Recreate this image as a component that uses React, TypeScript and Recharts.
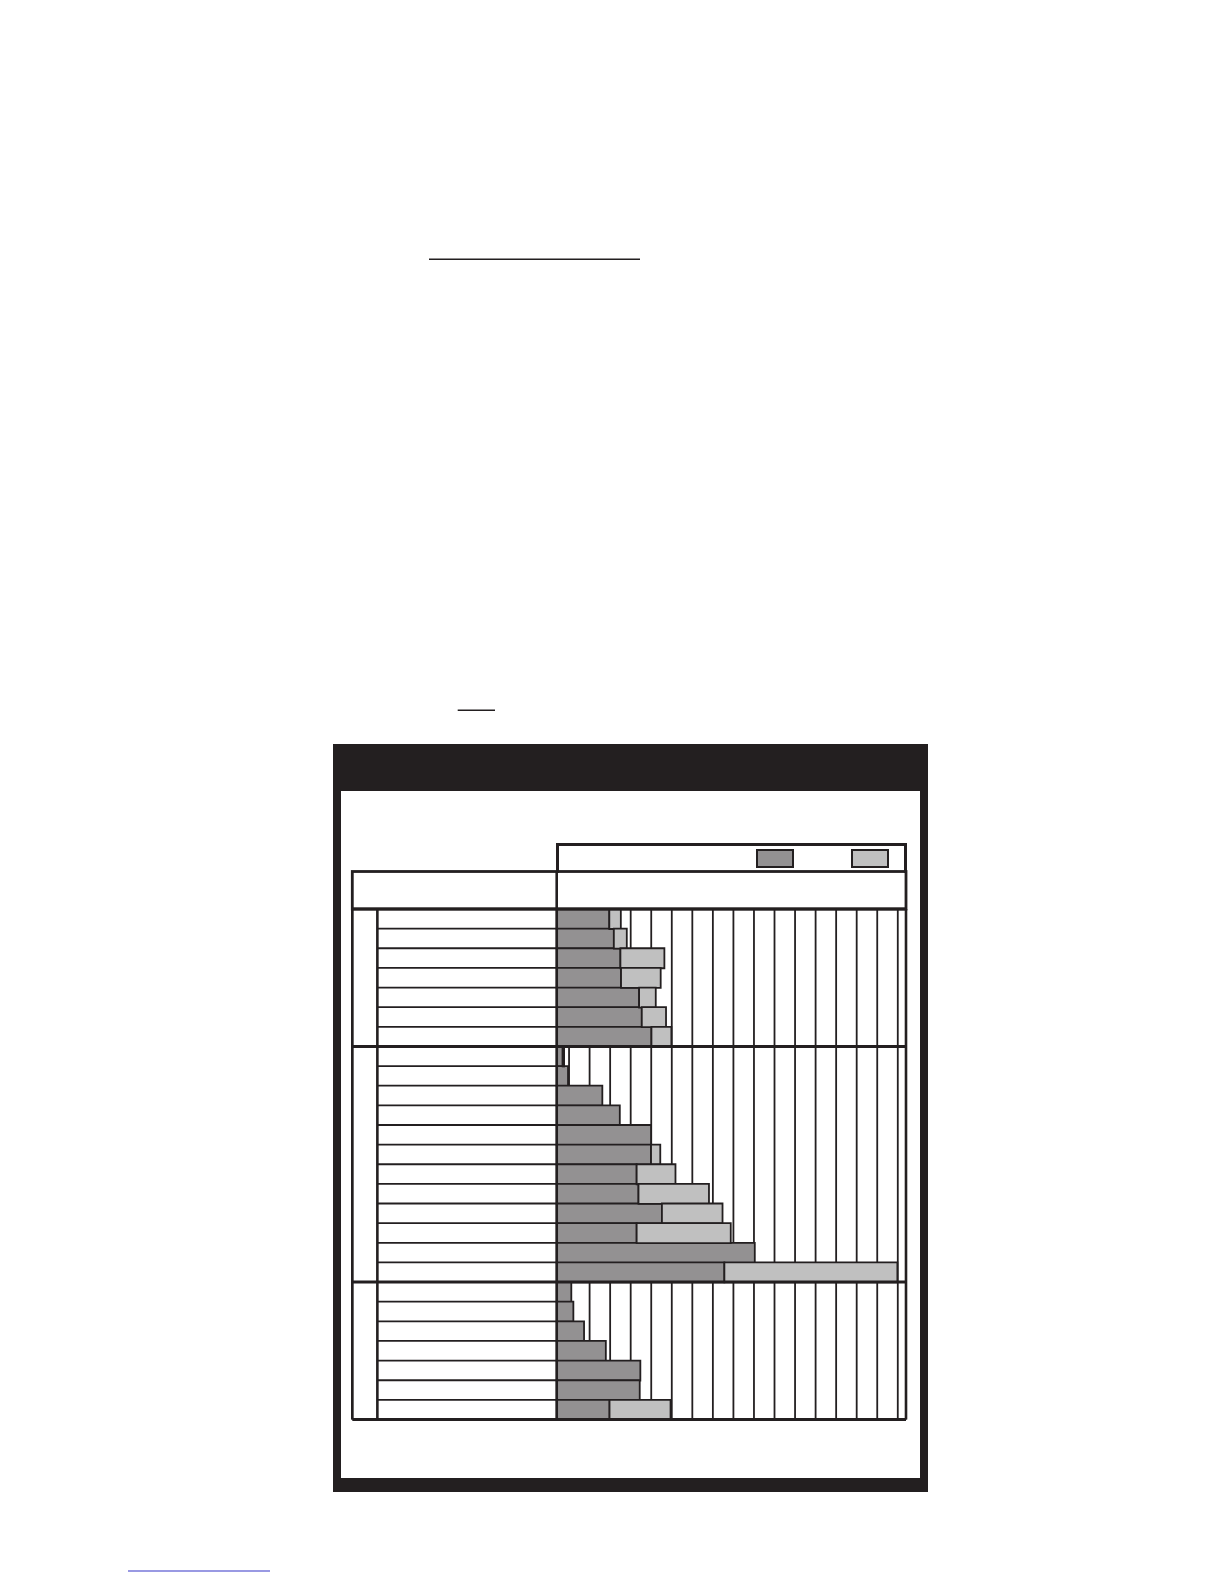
import {
    BarChart,
    Bar,
    XAxis,
    YAxis,
    CartesianGrid,
    ReferenceLine,
    Legend,
} from "recharts";

// rows of the three groups (the chart carries no printed labels)
const ROWS_A = ["A1", "A2", "A3", "A4", "A5", "A6", "A7"];
const ROWS_B = ["B1", "B2", "B3", "B4", "B5", "B6", "B7", "B8", "B9", "B10", "B11", "B12"];
const ROWS_C = ["C1", "C2", "C3", "C4", "C5", "C6", "C7"];

// dark segment values (one grid step = 1)
const DARK_A = [2.56, 2.78, 3.1, 3.13, 4.01, 4.14, 4.61];
const DARK_B = [0.29, 0.55, 2.22, 3.07, 4.59, 4.59, 3.89, 3.98, 5.12, 3.89, 9.64, 8.16];
const DARK_C = [0.71, 0.81, 1.33, 2.39, 4.07, 4.04, 2.57];

// light segment values, stacked after the dark one
const LIGHT_A = [0.56, 0.63, 2.14, 1.93, 0.81, 1.18, 0.97];
const LIGHT_B = [0.07, 0, 0, 0, 0, 0.45, 1.89, 3.43, 2.95, 4.58, 0, 8.42];
const LIGHT_C = [0, 0, 0, 0, 0, 0, 2.97];

const GRID_TICKS = [0.6, 1.6, 2.6, 3.6, 4.6, 5.6, 6.6, 7.6, 8.6, 9.6, 10.6, 11.6, 12.6, 13.6, 14.6, 15.6, 16.6];

const SERIES = ["dark", "light"];

// axis extents: table left edge and label column edge sit left of zero
const X_MAX = 17;
const X_TABLE_LEFT = -9.95;
const X_GROUP_COL = -8.73;

const INK = "#231f20";
const DARK_FILL = "#939192";
const LIGHT_FILL = "#c0c0c0";

const rows = [...ROWS_A, ...ROWS_B, ...ROWS_C];
const darkVals = [...DARK_A, ...DARK_B, ...DARK_C];
const lightVals = [...LIGHT_A, ...LIGHT_B, ...LIGHT_C];

const data = rows.map((row, i) => ({
    row,
    dark: darkVals[i],
    light: lightVals[i],
}));

const groupFirst = [ROWS_A[0], ROWS_B[0], ROWS_C[0]];
const innerRows = rows.filter((r) => !groupFirst.includes(r));

// page offset of the root (body margin)
const O = 8;

function LegendBox({ payload }: any) {
    const swatchLeft = [197, 292];
    return (
        <div
            style={{
                position: "relative",
                width: 351,
                height: 30,
                boxSizing: "border-box",
                border: `3px solid ${INK}`,
                borderBottom: "none",
            }}
        >
            {(payload || []).map((p: any, i: number) => (
                <div
                    key={p.value}
                    style={{
                        position: "absolute",
                        left: swatchLeft[i],
                        top: 3,
                        width: 38,
                        height: 19,
                        boxSizing: "border-box",
                        background: p.color,
                        border: `2.5px solid ${INK}`,
                    }}
                />
            ))}
        </div>
    );
}

export default function App() {
    return (
        <div style={{ position: "relative", width: 1208, height: 1576, background: "#fff" }}>
            {/* outer dark frame with header band */}
            <div
                style={{
                    position: "absolute",
                    left: 333.3 - O,
                    top: 744 - O,
                    width: 594.4,
                    height: 747.7,
                    background: INK,
                }}
            />
            <div
                style={{
                    position: "absolute",
                    left: 341 - O,
                    top: 791 - O,
                    width: 579,
                    height: 687,
                    background: "#fff",
                }}
            >
                <BarChart
                    width={579}
                    height={687}
                    data={data}
                    layout="vertical"
                    barCategoryGap={0}
                    barGap={0}
                    margin={{ top: 118, right: 14, bottom: 58.5, left: 11.3 }}
                >
                    <CartesianGrid
                        horizontal={false}
                        stroke={INK}
                        strokeWidth={1.8}
                    />
                    <XAxis
                        type="number"
                        domain={[X_TABLE_LEFT, X_MAX]}
                        ticks={GRID_TICKS}
                        interval={0}
                        allowDataOverflow
                        hide
                    />
                    <YAxis type="category" dataKey="row" hide />
                    <Legend
                        layout="horizontal"
                        verticalAlign="middle"
                        align="center"
                        content={<LegendBox />}
                        wrapperStyle={{ top: 51.7, left: 214.7, width: 351, height: 30, margin: 0 }}
                    />
                    {SERIES.map((key) => (
                        <Bar
                            key={key}
                            dataKey={key}
                            stackId="s"
                            fill={key === "dark" ? DARK_FILL : LIGHT_FILL}
                            stroke={INK}
                            strokeWidth={1.8}
                            isAnimationActive={false}
                        />
                    ))}
                    {innerRows.map((r) => (
                        <ReferenceLine
                            key={"r" + r}
                            position="start"
                            segment={[
                                { x: X_GROUP_COL, y: r },
                                { x: 0, y: r },
                            ]}
                            stroke={INK}
                            strokeWidth={1.8}
                            ifOverflow="visible"
                        />
                    ))}
                    {groupFirst.map((r) => (
                        <ReferenceLine
                            key={"g" + r}
                            y={r}
                            position="start"
                            stroke={INK}
                            strokeWidth={3}
                            ifOverflow="visible"
                        />
                    ))}
                    <ReferenceLine
                        y={rows[rows.length - 1]}
                        position="end"
                        stroke={INK}
                        strokeWidth={3}
                        ifOverflow="visible"
                    />
                    {[X_TABLE_LEFT, X_GROUP_COL, 0, X_MAX].map((x) => (
                        <ReferenceLine
                            key={"v" + x}
                            x={x}
                            stroke={INK}
                            strokeWidth={2.6}
                            ifOverflow="visible"
                        />
                    ))}
                </BarChart>
            </div>
            {/* header row of the table and stray page rules */}
            <svg
                width={1208}
                height={1576}
                style={{ position: "absolute", left: 0, top: 0, pointerEvents: "none" }}
            >
                <rect
                    x={352.3 - O}
                    y={871.5 - O}
                    width={553.7}
                    height={37.5}
                    fill="none"
                    stroke={INK}
                    strokeWidth={2.8}
                />
                <line x1={556.7 - O} y1={871.5 - O} x2={556.7 - O} y2={909 - O} stroke={INK} strokeWidth={2.6} />
                <line x1={429 - O} y1={259.3 - O} x2={640 - O} y2={259.3 - O} stroke={INK} strokeWidth={1.5} />
                <line x1={457.7 - O} y1={710.3 - O} x2={495 - O} y2={710.3 - O} stroke={INK} strokeWidth={1.5} />
                <line x1={128 - O} y1={1571 - O} x2={270 - O} y2={1571 - O} stroke="#3535c8" strokeWidth={1.2} />
            </svg>
        </div>
    );
}
